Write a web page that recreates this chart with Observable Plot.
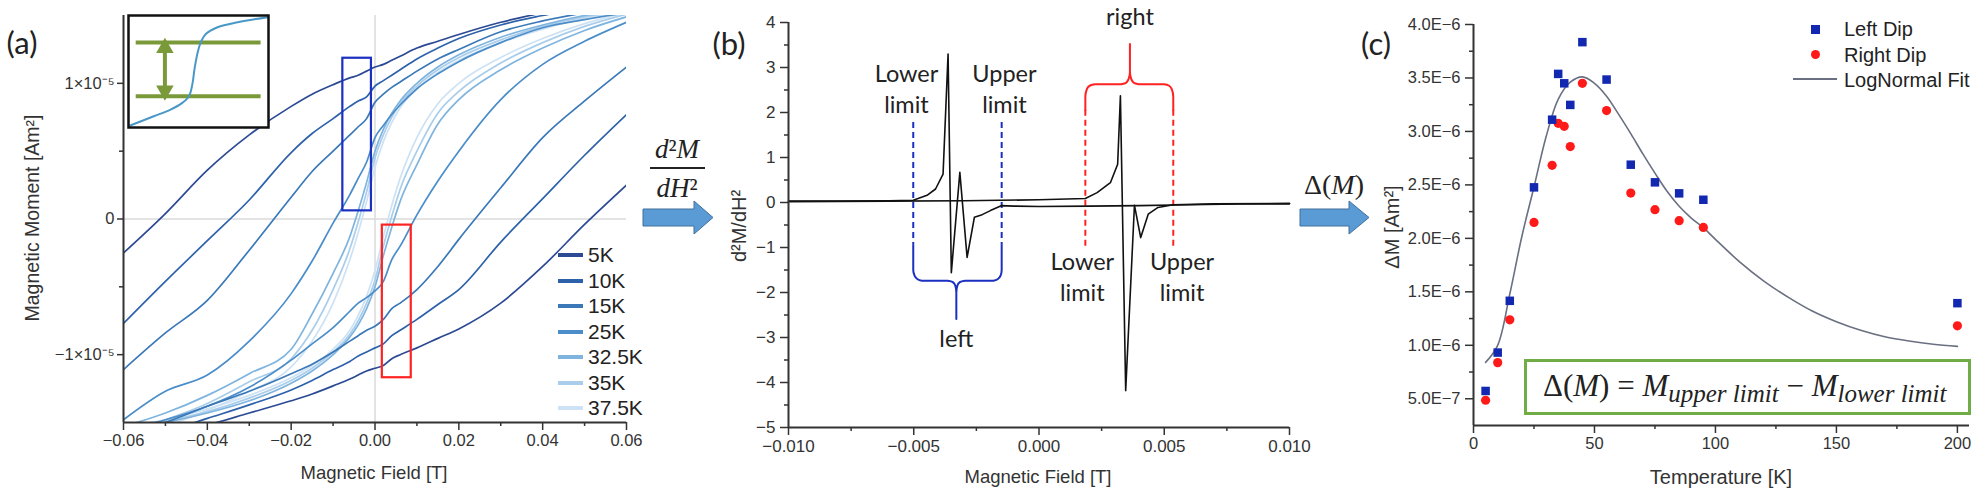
<!DOCTYPE html>
<html>
<head>
<meta charset="utf-8">
<script src="https://cdn.jsdelivr.net/npm/d3@7"></script>
<script src="https://cdn.jsdelivr.net/npm/@observablehq/plot@0.6"></script>
<style>
  html, body { margin: 0; padding: 0; background: #fff; }
  #root { position: relative; width: 1979px; height: 496px; overflow: hidden; font-family: "Liberation Sans", Arial, sans-serif; color: #333; }
  #root > * { position: absolute; }
  .ctr { transform: translate(-50%, -50%); white-space: nowrap; }
  .rot { transform: translate(-50%, -50%) rotate(-90deg); white-space: nowrap; }
  .plabel { font-family: Lato, "Open Sans", sans-serif; font-size: 31px; color: #222; }
  .math { font-family: "Liberation Serif", "DejaVu Serif", serif; color: #222; }
</style>
</head>
<body>
<div id="root"></div>
<script>
// ---------------- Panel (a): hysteresis loops (M in units of 1e-5 Am²) ----------------
const temps = ["5K", "10K", "15K", "25K", "32.5K", "35K", "37.5K"];
const tempColors = ["#2c4a94", "#2d62aa", "#3a78b8", "#4b8dc8", "#7fb4de", "#a9cdea", "#cde2f4"];
const hGrid = [-0.06, -0.05, -0.04, -0.03, -0.02, -0.015, -0.01, -0.006, -0.004, -0.002, 0, 0.002, 0.004, 0.006, 0.01, 0.015, 0.02, 0.03, 0.04, 0.05, 0.06];

const m5Kdown   = [-0.25, 0.04, 0.36, 0.62, 0.83, 0.92, 0.99, 1.04, 1.06, 1.09, 1.12, 1.14, 1.17, 1.20, 1.26, 1.31, 1.36, 1.45, 1.52, 1.58, 1.63];
const m10Kdown  = [-0.77, -0.46, -0.16, 0.14, 0.49, 0.63, 0.74, 0.83, 0.87, 0.90, 0.98, 1.02, 1.06, 1.10, 1.18, 1.26, 1.33, 1.43, 1.50, 1.56, 1.61];
const m15Kdown  = [-1.11, -0.84, -0.60, -0.23, 0.16, 0.35, 0.50, 0.62, 0.68, 0.74, 0.86, 0.92, 0.97, 1.01, 1.09, 1.18, 1.25, 1.38, 1.46, 1.52, 1.57];
const m25Kdown  = [-1.48, -1.27, -1.15, -0.90, -0.55, -0.31, -0.03, 0.18, 0.30, 0.42, 0.60, 0.69, 0.77, 0.84, 0.96, 1.07, 1.16, 1.30, 1.41, 1.47, 1.52];
const m32Kdown  = [-1.53, -1.43, -1.30, -1.14, -0.96, -0.70, -0.40, -0.13, 0.06, 0.27, 0.50, 0.66, 0.78, 0.87, 1.00, 1.12, 1.21, 1.34, 1.43, 1.50, 1.55];
const m35Kdown  = [-1.58, -1.48, -1.36, -1.20, -1.03, -0.82, -0.52, -0.22, -0.02, 0.20, 0.45, 0.62, 0.75, 0.85, 0.98, 1.10, 1.19, 1.32, 1.42, 1.49, 1.54];
const m37Kdown  = [-1.62, -1.53, -1.41, -1.27, -1.09, -0.90, -0.62, -0.30, -0.10, 0.13, 0.38, 0.57, 0.71, 0.82, 0.96, 1.08, 1.17, 1.30, 1.40, 1.48, 1.53];

const m5Kup     = [-1.66, -1.60, -1.52, -1.43, -1.34, -1.29, -1.23, -1.18, -1.15, -1.12, -1.10, -1.08, -1.03, -1.00, -0.95, -0.88, -0.81, -0.62, -0.35, -0.04, 0.25];
const m10Kup    = [-1.64, -1.57, -1.47, -1.37, -1.26, -1.19, -1.11, -1.05, -1.01, -0.98, -0.95, -0.92, -0.86, -0.82, -0.74, -0.63, -0.52, -0.17, 0.15, 0.47, 0.77];
const m15Kup    = [-1.60, -1.50, -1.38, -1.27, -1.14, -1.07, -0.98, -0.90, -0.86, -0.82, -0.79, -0.74, -0.66, -0.62, -0.52, -0.35, -0.15, 0.23, 0.60, 0.87, 1.12];
const m25Kup    = [-1.56, -1.48, -1.38, -1.24, -1.04, -0.92, -0.80, -0.68, -0.62, -0.58, -0.53, -0.46, -0.30, -0.20, 0.03, 0.28, 0.50, 0.88, 1.14, 1.31, 1.45];
const m32Kup    = [-1.55, -1.50, -1.43, -1.34, -1.21, -1.12, -1.00, -0.87, -0.78, -0.66, -0.50, -0.27, -0.06, 0.13, 0.40, 0.70, 0.88, 1.10, 1.26, 1.39, 1.49];
const m35Kup    = [-1.54, -1.49, -1.42, -1.32, -1.19, -1.10, -0.98, -0.85, -0.75, -0.62, -0.45, -0.20, 0.02, 0.22, 0.50, 0.78, 0.94, 1.15, 1.30, 1.42, 1.51];
const m37Kup    = [-1.53, -1.48, -1.40, -1.30, -1.17, -1.08, -0.96, -0.82, -0.71, -0.57, -0.38, -0.13, 0.10, 0.30, 0.60, 0.85, 1.00, 1.19, 1.33, 1.44, 1.52];

const downBranches = [m5Kdown, m10Kdown, m15Kdown, m25Kdown, m32Kdown, m35Kdown, m37Kdown];
const upBranches = [m5Kup, m10Kup, m15Kup, m25Kup, m32Kup, m35Kup, m37Kup];

const fieldDomainA = [-0.06, 0.06];
const momentDomainA = [-1.5, 1.5];
const xTicksA = [-0.06, -0.04, -0.02, 0, 0.02, 0.04, 0.06];
const xTickLabelsA = ["−0.06", "−0.04", "−0.02", "0.00", "0.02", "0.04", "0.06"];
const xMinorA = [-0.05, -0.03, -0.01, 0.01, 0.03, 0.05];
const yTicksA = [-1, 0, 1];
const yTickLabelsA = ["−1×10⁻⁵", "0", "1×10⁻⁵"];
const yMinorA = [-0.5, 0.5];

// highlight boxes in (a)
const boxName = ["left", "right"];
const boxH1 = [-0.00767, 0.00175];
const boxH2 = [-0.00085, 0.00865];
const boxM1 = [0.06, -1.17];
const boxM2 = [1.185, -0.045];
const boxColor = ["#1b2fc0", "#ff2222"];

// inset sketch (normalized coordinates)
const insetU = [0.012, 0.18, 0.30, 0.384, 0.432, 0.456, 0.473, 0.497, 0.516, 0.552, 0.636, 0.78, 0.996];
const insetV = [0.018, 0.10, 0.16, 0.22, 0.28, 0.385, 0.534, 0.685, 0.76, 0.835, 0.895, 0.94, 0.985];
const insetLevels = [0.28, 0.76];
const insetLevelSpan = [0.055, 0.947];
const insetArrowU = 0.26;
const insetArrowEnds = [0.33, 0.71];

// ---------------- Panel (b): second derivative ----------------
const curveA_H = [-0.010, -0.008, -0.006, -0.00502, -0.00447, -0.00413, -0.00383, -0.00363, -0.00350, -0.00316, -0.00287, -0.00258, -0.00227, -0.00194, -0.00151, -0.001, 0.000, 0.002, 0.004, 0.006, 0.008, 0.010];
const curveA_D = [0.03, 0.03, 0.04, 0.05, 0.16, 0.30, 0.63, 3.30, -1.56, 0.67, -1.22, -0.33, -0.27, -0.18, -0.07, -0.08, -0.09, -0.08, -0.07, -0.05, -0.03, -0.03];
const curveB_H = [-0.010, -0.006, -0.003, 0.000, 0.00185, 0.00232, 0.00285, 0.00314, 0.00325, 0.00346, 0.00381, 0.00406, 0.00436, 0.00475, 0.00536, 0.007, 0.010];
const curveB_D = [0.02, 0.03, 0.04, 0.06, 0.09, 0.22, 0.44, 0.85, 2.37, -4.18, -0.06, -0.78, -0.26, -0.11, -0.05, -0.03, -0.02];

const limitH = [-0.00502, -0.00149, 0.00185, 0.00536];
const limitTop = [1.78, 1.78, 2.05, 2.05];
const limitBottom = [-0.95, -0.95, -0.97, -0.97];
const limitColor = ["#1b2fc0", "#1b2fc0", "#ff2222", "#ff2222"];

const braceLeftH = [-0.00502, -0.00502, -0.00497, -0.00486, -0.00468, -0.00364, -0.00344, -0.00334, -0.00330, -0.00330, -0.00330, -0.00326, -0.00316, -0.00295, -0.00182, -0.00164, -0.00153, -0.00149, -0.00149];
const braceLeftD = [-0.95, -1.50, -1.62, -1.70, -1.74, -1.74, -1.77, -1.85, -2.00, -2.59, -2.00, -1.85, -1.77, -1.74, -1.74, -1.70, -1.62, -1.50, -0.95];
const braceRightH = [0.00185, 0.00185, 0.00191, 0.00204, 0.00224, 0.00328, 0.00348, 0.00358, 0.00363, 0.00363, 0.00363, 0.00368, 0.00378, 0.00398, 0.00500, 0.00518, 0.00530, 0.00536, 0.00536];
const braceRightD = [2.05, 2.35, 2.52, 2.60, 2.63, 2.63, 2.66, 2.75, 2.90, 3.52, 2.90, 2.75, 2.66, 2.63, 2.63, 2.60, 2.52, 2.35, 2.05];

const annotText = ["Lower\nlimit", "Upper\nlimit", "right", "left", "Lower\nlimit", "Upper\nlimit"];
const annotH = [-0.00529, -0.00138, 0.00363, -0.00330, 0.00173, 0.00571];
const annotD = [2.55, 2.55, 4.16, -3.0, -1.63, -1.63];

const fieldDomainB = [-0.010, 0.010];
const derivDomainB = [-5, 4];
const xTicksB = [-0.010, -0.005, 0, 0.005, 0.010];
const xTickLabelsB = ["−0.010", "−0.005", "0.000", "0.005", "0.010"];
const xMinorB = [-0.0075, -0.0025, 0.0025, 0.0075];
const yTicksB = [-5, -4, -3, -2, -1, 0, 1, 2, 3, 4];
const yTickLabelsB = ["−5", "−4", "−3", "−2", "−1", "0", "1", "2", "3", "4"];
const yMinorB = [-4.5, -3.5, -2.5, -1.5, -0.5, 0.5, 1.5, 2.5, 3.5];

// ---------------- Panel (c): ΔM vs temperature ----------------
const dipT = [5, 10, 15, 25, 32.5, 35, 37.5, 40, 45, 55, 65, 75, 85, 95, 200];
const leftDip = [5.73e-7, 9.32e-7, 1.416e-6, 2.477e-6, 3.11e-6, 3.538e-6, 3.45e-6, 3.248e-6, 3.835e-6, 3.485e-6, 2.689e-6, 2.524e-6, 2.421e-6, 2.361e-6, 1.394e-6];
const rightDip = [4.86e-7, 8.38e-7, 1.238e-6, 2.149e-6, 2.683e-6, 3.076e-6, 3.048e-6, 2.858e-6, 3.45e-6, 3.195e-6, 2.424e-6, 2.268e-6, 2.165e-6, 2.102e-6, 1.182e-6];
const fitT = [5, 10, 15, 20, 25, 30, 35, 40, 45, 50, 55, 60, 65, 70, 75, 80, 85, 90, 95, 100, 110, 120, 130, 140, 150, 160, 170, 180, 190, 200];
const fitM = [8.4e-7, 1.0e-6, 1.48e-6, 2.02e-6, 2.48e-6, 2.95e-6, 3.30e-6, 3.46e-6, 3.51e-6, 3.45e-6, 3.33e-6, 3.16e-6, 2.98e-6, 2.79e-6, 2.61e-6, 2.44e-6, 2.30e-6, 2.19e-6, 2.10e-6, 1.99e-6, 1.78e-6, 1.60e-6, 1.45e-6, 1.32e-6, 1.22e-6, 1.14e-6, 1.08e-6, 1.04e-6, 1.01e-6, 9.9e-7];

const tempDomainC = [0, 205];
const deltaDomainC = [2.5e-7, 4.0e-6];
const xTicksC = [0, 50, 100, 150, 200];
const xMinorC = [25, 75, 125, 175];
const yTicksC = [5e-7, 1e-6, 1.5e-6, 2e-6, 2.5e-6, 3e-6, 3.5e-6, 4e-6];
const yTickLabelsC = ["5.0E−7", "1.0E−6", "1.5E−6", "2.0E−6", "2.5E−6", "3.0E−6", "3.5E−6", "4.0E−6"];
const yMinorC = [7.5e-7, 1.25e-6, 1.75e-6, 2.25e-6, 2.75e-6, 3.25e-6, 3.75e-6];
const legendC = ["Left Dip", "Right Dip", "LogNormal Fit"];

// ---------------- build ----------------
const root = document.getElementById("root");
const AX = "#333";
const baseStyle = { fontFamily: "'Liberation Sans', Arial, sans-serif", fontSize: "17px", color: AX, background: "transparent", overflow: "visible" };

function put(el, left, top) { el.style.position = "absolute"; el.style.left = left + "px"; el.style.top = top + "px"; root.appendChild(el); return el; }
function div(html, cls, left, top, css) {
  const d = document.createElement("div");
  d.className = cls; d.innerHTML = html;
  if (css) Object.assign(d.style, css);
  return put(d, left, top);
}
const lbl = (ticks, labels) => d => labels[ticks.indexOf(d)];

// Panel (a)
const loopRows = [];
temps.forEach((t, k) => {
  hGrid.forEach((h, i) => loopRows.push({ H: h, M: downBranches[k][i], temp: t, branch: t + "-down", order: k }));
  hGrid.forEach((h, i) => loopRows.push({ H: h, M: upBranches[k][i], temp: t, branch: t + "-up", order: k }));
});
loopRows.sort((a, b) => b.order - a.order);
const boxes = boxName.map((n, i) => ({ n, x1: boxH1[i], x2: boxH2[i], y1: boxM1[i], y2: boxM2[i], c: boxColor[i] }));

const plotA = Plot.plot({
  width: 640, height: 496,
  marginLeft: 123, marginRight: 14, marginTop: 15, marginBottom: 74,
  style: { ...baseStyle, fontSize: "16.5px" },
  x: { domain: fieldDomainA },
  y: { domain: momentDomainA },
  color: { domain: temps, range: tempColors },
  marks: [
    Plot.ruleX([0], { stroke: "#dadada", strokeWidth: 1.5 }),
    Plot.ruleY([0], { stroke: "#dadada", strokeWidth: 1.5 }),
    Plot.line(loopRows, { x: "H", y: "M", z: "branch", stroke: "temp", strokeWidth: 1.7, curve: "monotone-x", clip: true }),
    Plot.rect(boxes, { x1: "x1", x2: "x2", y1: "y1", y2: "y2", stroke: "c", fill: "none", strokeWidth: 2.2 }),
    Plot.ruleX([fieldDomainA[0]], { stroke: AX, strokeWidth: 2 }),
    Plot.ruleY([momentDomainA[0]], { stroke: AX, strokeWidth: 2 }),
    Plot.axisX({ ticks: xTicksA, tickFormat: lbl(xTicksA, xTickLabelsA), tickSize: 8, tickPadding: 4, strokeWidth: 1.5, label: null }),
    Plot.axisX({ ticks: xMinorA, tickSize: 4, strokeWidth: 1.5, fill: "none", label: null }),
    Plot.axisY({ ticks: yTicksA, tickFormat: lbl(yTicksA, yTickLabelsA), tickSize: 6, tickPadding: 3, strokeWidth: 1.5, label: null }),
    Plot.axisY({ ticks: yMinorA, tickSize: 4, strokeWidth: 1.5, fill: "none", label: null })
  ]
});
put(plotA, 0, 0);

// inset
const insetRows = insetU.map((u, i) => ({ u, v: insetV[i] }));
const inset = Plot.plot({
  width: 140, height: 112, margin: 0,
  style: { background: "#fff", overflow: "visible" },
  x: { domain: [0, 1], axis: null },
  y: { domain: [0, 1], axis: null },
  marks: [
    Plot.ruleY(insetLevels, { x1: insetLevelSpan[0], x2: insetLevelSpan[1], stroke: "#7a9a3a", strokeWidth: 4 }),
    Plot.link([0], { x1: insetArrowU, x2: insetArrowU, y1: insetArrowEnds[0], y2: insetArrowEnds[1], stroke: "#7a9a3a", strokeWidth: 4 }),
    Plot.dot([insetArrowEnds[1]], { x: insetArrowU, y: d => d, symbol: "triangle", r: 6.5, fill: "#7a9a3a", stroke: "none" }),
    Plot.dot([insetArrowEnds[0]], { x: insetArrowU, y: d => d, symbol: "triangle", r: 6.5, rotate: 180, fill: "#7a9a3a", stroke: "none" }),
    Plot.line(insetRows, { x: "u", y: "v", stroke: "#4a98c8", strokeWidth: 2, curve: "catmull-rom" }),
    Plot.frame({ stroke: "#111", strokeWidth: 2.5 })
  ]
});
put(inset, 128, 15);

// legend (a)
temps.forEach((t, i) => {
  const cy = 255 + i * 25.5;
  div("", "", 558, cy - 2, { width: "25px", height: "4px", background: tempColors[i] });
  div(t, "", 588, cy - 12, { fontSize: "21px", lineHeight: "24px", color: "#222" });
});

div("Magnetic Field [T]", "ctr", 374, 473, { fontSize: "18.5px" });
div("Magnetic Moment [Am²]", "rot", 32, 218, { fontSize: "19.5px" });
div("(a)", "plabel ctr", 22, 42);

// Panel (b)
const derivRows = [
  ...curveA_H.map((h, i) => ({ H: h, D: curveA_D[i], s: "A" })),
  ...curveB_H.map((h, i) => ({ H: h, D: curveB_D[i], s: "B" }))
];
const limits = limitH.map((h, i) => ({ H: h, top: limitTop[i], bottom: limitBottom[i], c: limitColor[i] }));
const braces = [
  ...braceLeftH.map((h, i) => ({ H: h, D: braceLeftD[i], b: "left", c: "#1b2fc0" })),
  ...braceRightH.map((h, i) => ({ H: h, D: braceRightD[i], b: "right", c: "#ff2222" }))
];
const annots = annotText.map((t, i) => ({ t, H: annotH[i], D: annotD[i] }));

const plotB = Plot.plot({
  width: 590, height: 496,
  marginLeft: 68, marginRight: 21, marginTop: 22, marginBottom: 69,
  style: baseStyle,
  x: { domain: fieldDomainB },
  y: { domain: derivDomainB },
  marks: [
    Plot.ruleX(limits, { x: "H", y1: "top", y2: "bottom", stroke: "c", strokeWidth: 2, strokeDasharray: "6,4" }),
    Plot.line(braces, { x: "H", y: "D", z: "b", stroke: "c", strokeWidth: 2, curve: "monotone-y" }),
    Plot.line(derivRows, { x: "H", y: "D", z: "s", stroke: "#111", strokeWidth: 1.6 }),
    Plot.text(annots, { x: "H", y: "D", text: "t", fontFamily: "Lato, 'Open Sans', sans-serif", fontSize: 23.5, lineHeight: 1.3, fill: "#222", lineAnchor: "middle" }),
    Plot.ruleX([fieldDomainB[0]], { stroke: AX, strokeWidth: 2 }),
    Plot.ruleY([derivDomainB[0]], { stroke: AX, strokeWidth: 2 }),
    Plot.axisX({ ticks: xTicksB, tickFormat: lbl(xTicksB, xTickLabelsB), tickSize: 8, tickPadding: 4, strokeWidth: 1.5, label: null }),
    Plot.axisX({ ticks: xMinorB, tickSize: 4, strokeWidth: 1.5, fill: "none", label: null }),
    Plot.axisY({ ticks: yTicksB, tickFormat: lbl(yTicksB, yTickLabelsB), tickSize: 8, tickPadding: 5, strokeWidth: 1.5, label: null }),
    Plot.axisY({ ticks: yMinorB, tickSize: 4, strokeWidth: 1.5, fill: "none", label: null })
  ]
});
put(plotB, 720, 0);

div("Magnetic Field [T]", "ctr", 1038, 477, { fontSize: "18.5px" });
div("d²M/dH²", "rot", 739, 226, { fontSize: "20px" });
div("(b)", "plabel ctr", 729, 43);

// Panel (c)
const dipRows = dipT.map((t, i) => ({ T: t, left: leftDip[i], right: rightDip[i] }));
const fitRows = fitT.map((t, i) => ({ T: t, M: fitM[i] }));
const plotC = Plot.plot({
  width: 599, height: 496,
  marginLeft: 93, marginRight: 10, marginTop: 24, marginBottom: 71,
  style: { ...baseStyle, fontSize: "16.5px" },
  x: { domain: tempDomainC },
  y: { domain: deltaDomainC },
  marks: [
    Plot.line(fitRows, { x: "T", y: "M", stroke: "#6a7082", strokeWidth: 1.6, curve: "catmull-rom" }),
    Plot.dot(dipRows, { x: "T", y: "right", r: 4.6, fill: "#ff1a1a", stroke: "none" }),
    Plot.dot(dipRows, { x: "T", y: "left", symbol: "square", r: 4.8, fill: "#1228b0", stroke: "none" }),
    Plot.ruleX([tempDomainC[0]], { stroke: AX, strokeWidth: 2 }),
    Plot.ruleY([deltaDomainC[0]], { stroke: AX, strokeWidth: 2 }),
    Plot.axisX({ ticks: xTicksC, tickSize: 8, tickPadding: 4, strokeWidth: 1.5, label: null }),
    Plot.axisX({ ticks: xMinorC, tickSize: 4, strokeWidth: 1.5, fill: "none", label: null }),
    Plot.axisY({ ticks: yTicksC, tickFormat: lbl(yTicksC, yTickLabelsC), tickSize: 8, tickPadding: 5, strokeWidth: 1.5, label: null }),
    Plot.axisY({ ticks: yMinorC, tickSize: 4, strokeWidth: 1.5, fill: "none", label: null })
  ]
});
put(plotC, 1380, 0);

div("Temperature [K]", "ctr", 1721, 477, { fontSize: "20px" });
div("ΔM [Am²]", "rot", 1392, 227, { fontSize: "20px" });
div("(c)", "plabel ctr", 1376, 43);

// legend (c)
div("", "", 1811, 25, { width: "9px", height: "9px", background: "#1228b0" });
div("", "", 1810.5, 49.5, { width: "9px", height: "9px", background: "#ff1a1a", borderRadius: "50%" });
div("", "", 1793, 78, { width: "44px", height: "2px", background: "#6a7082" });
legendC.forEach((t, i) => div(t, "", 1844, 29 + i * 25.5 - 12, { fontSize: "20px", lineHeight: "24px", color: "#222" }));

// formula box (c)
div('Δ(<i>M</i>) = <i>M</i><sub style="font-size:25px;font-style:italic;vertical-align:-6px">upper limit</sub> − <i>M</i><sub style="font-size:25px;font-style:italic;vertical-align:-6px">lower limit</sub>',
    "math", 1524, 359, { width: "447px", height: "56px", boxSizing: "border-box", border: "3px solid #70ad47", fontSize: "31px", lineHeight: "48px", paddingLeft: "16px", whiteSpace: "nowrap", overflow: "hidden" });

// process arrows and operators
function blockArrow(x0, xHead, xTip) {
  const s = document.createElementNS("http://www.w3.org/2000/svg", "svg");
  s.setAttribute("width", 80); s.setAttribute("height", 40);
  const p = document.createElementNS("http://www.w3.org/2000/svg", "polygon");
  const b = xHead - x0, t = xTip - x0;
  p.setAttribute("points", `1,9 ${b},9 ${b},1 ${t},17.5 ${b},34 ${b},26 1,26`);
  p.setAttribute("fill", "#5b9bd5"); p.setAttribute("stroke", "#41719c"); p.setAttribute("stroke-width", "1");
  s.appendChild(p);
  return put(s, x0, 200);
}
blockArrow(642, 694, 713);
blockArrow(1299, 1349, 1369);

div('<i>d</i>²<i>M</i>', "math ctr", 677, 149, { fontSize: "27px" });
div("", "", 650, 167, { width: "55px", height: "2px", background: "#222" });
div('<i>dH</i>²', "math ctr", 677, 188, { fontSize: "27px" });
div('Δ(<i>M</i>)', "math ctr", 1334, 185, { fontSize: "28px" });
</script>
</body>
</html>
